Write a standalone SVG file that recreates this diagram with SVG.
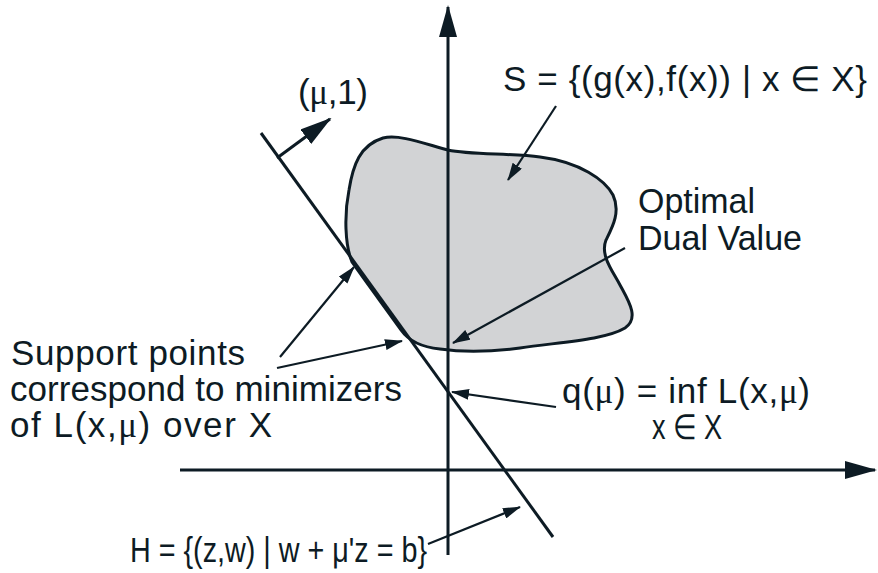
<svg xmlns="http://www.w3.org/2000/svg" width="878" height="573" viewBox="0 0 878 573">
<style>
.ln{stroke:#0d1b24;fill:none;stroke-width:3}
.ptr{stroke:#0d1b24;fill:none;stroke-width:2.2}
.t{font-family:"Liberation Sans",Arial,sans-serif;font-size:35px;fill:#0d1b24}
.g{font-family:"Liberation Serif","Times New Roman",serif}
</style>
<defs>
<marker id="big" markerUnits="userSpaceOnUse" markerWidth="32" markerHeight="18" viewBox="0 0 32 18" refX="30" refY="9" orient="auto">
<path d="M0,0 L32,9 L0,18 Z" fill="#0d1b24"/>
</marker>
<marker id="sm" markerUnits="userSpaceOnUse" markerWidth="18" markerHeight="11" viewBox="0 0 18 11" refX="17" refY="5.5" orient="auto">
<path d="M0,0 L18,5.5 L0,11 Z" fill="#0d1b24"/>
</marker>
</defs>
<g id="setS">
<path d="M383,138 C400,134 425,144 448,150 C470,155 510,153 540,157 C580,162 605,180 613,195 C621,212 612,228 606,240 C600,255 612,270 620,285 C628,300 640,318 625,328 C605,340 560,342 520,348 C490,352 460,352 440,349 C420,347 408,340 401,330 C386,309 366,282 352,262 C345,245 344,215 349,190 C353,165 360,145 383,138 Z" fill="#d2d3d5" stroke="#0d1b24" stroke-width="3"/>
</g>
<g id="axes">
<line class="ln" x1="448" y1="555" x2="448" y2="7" marker-end="url(#big)"/>
<line class="ln" x1="180" y1="470" x2="875" y2="470" marker-end="url(#big)"/>
</g>
<g id="hyperplane">
<line class="ln" x1="261" y1="133" x2="553" y2="537"/>
</g>
<g id="connectors">
<line class="ln" x1="277" y1="158" x2="330" y2="119" marker-end="url(#big)"/>
<line class="ptr" x1="556" y1="106" x2="508" y2="180" marker-end="url(#sm)"/>
<line class="ptr" x1="625" y1="248" x2="453" y2="343" marker-end="url(#sm)"/>
<line class="ptr" x1="280" y1="357" x2="354" y2="267" marker-end="url(#sm)"/>
<line class="ptr" x1="277" y1="368" x2="402" y2="341" marker-end="url(#sm)"/>
<line class="ptr" x1="556" y1="407" x2="452" y2="392" marker-end="url(#sm)"/>
<line class="ptr" x1="428" y1="544" x2="520" y2="507" marker-end="url(#sm)"/>
</g>
<g id="labels">
<text class="t" x="298" y="104" textLength="70" lengthAdjust="spacing">(<tspan class="g">μ</tspan>,1)</text>
<text class="t" x="503" y="91" textLength="364" lengthAdjust="spacing">S = {(g(x),f(x)) | x ∈ X}</text>
<text class="t" x="638" y="213" textLength="117" lengthAdjust="spacingAndGlyphs">Optimal</text>
<text class="t" x="638" y="250" textLength="164" lengthAdjust="spacingAndGlyphs">Dual Value</text>
<text class="t" x="11" y="365" textLength="234" lengthAdjust="spacing">Support points</text>
<text class="t" x="10" y="401" textLength="392" lengthAdjust="spacing">correspond to minimizers</text>
<text class="t" x="10" y="437" textLength="262" lengthAdjust="spacing">of L(x,<tspan class="g">μ</tspan>) over X</text>
<text class="t" x="562" y="403" textLength="248" lengthAdjust="spacing">q(<tspan class="g">μ</tspan>) = inf  L(x,<tspan class="g">μ</tspan>)</text>
<text class="t" x="652" y="439" font-size="28" textLength="70" lengthAdjust="spacingAndGlyphs">x ∈ X</text>
<text class="t" x="130" y="562" textLength="297" lengthAdjust="spacingAndGlyphs">H = {(z,w) | w + μ'z = b}</text>
</g>
</svg>
